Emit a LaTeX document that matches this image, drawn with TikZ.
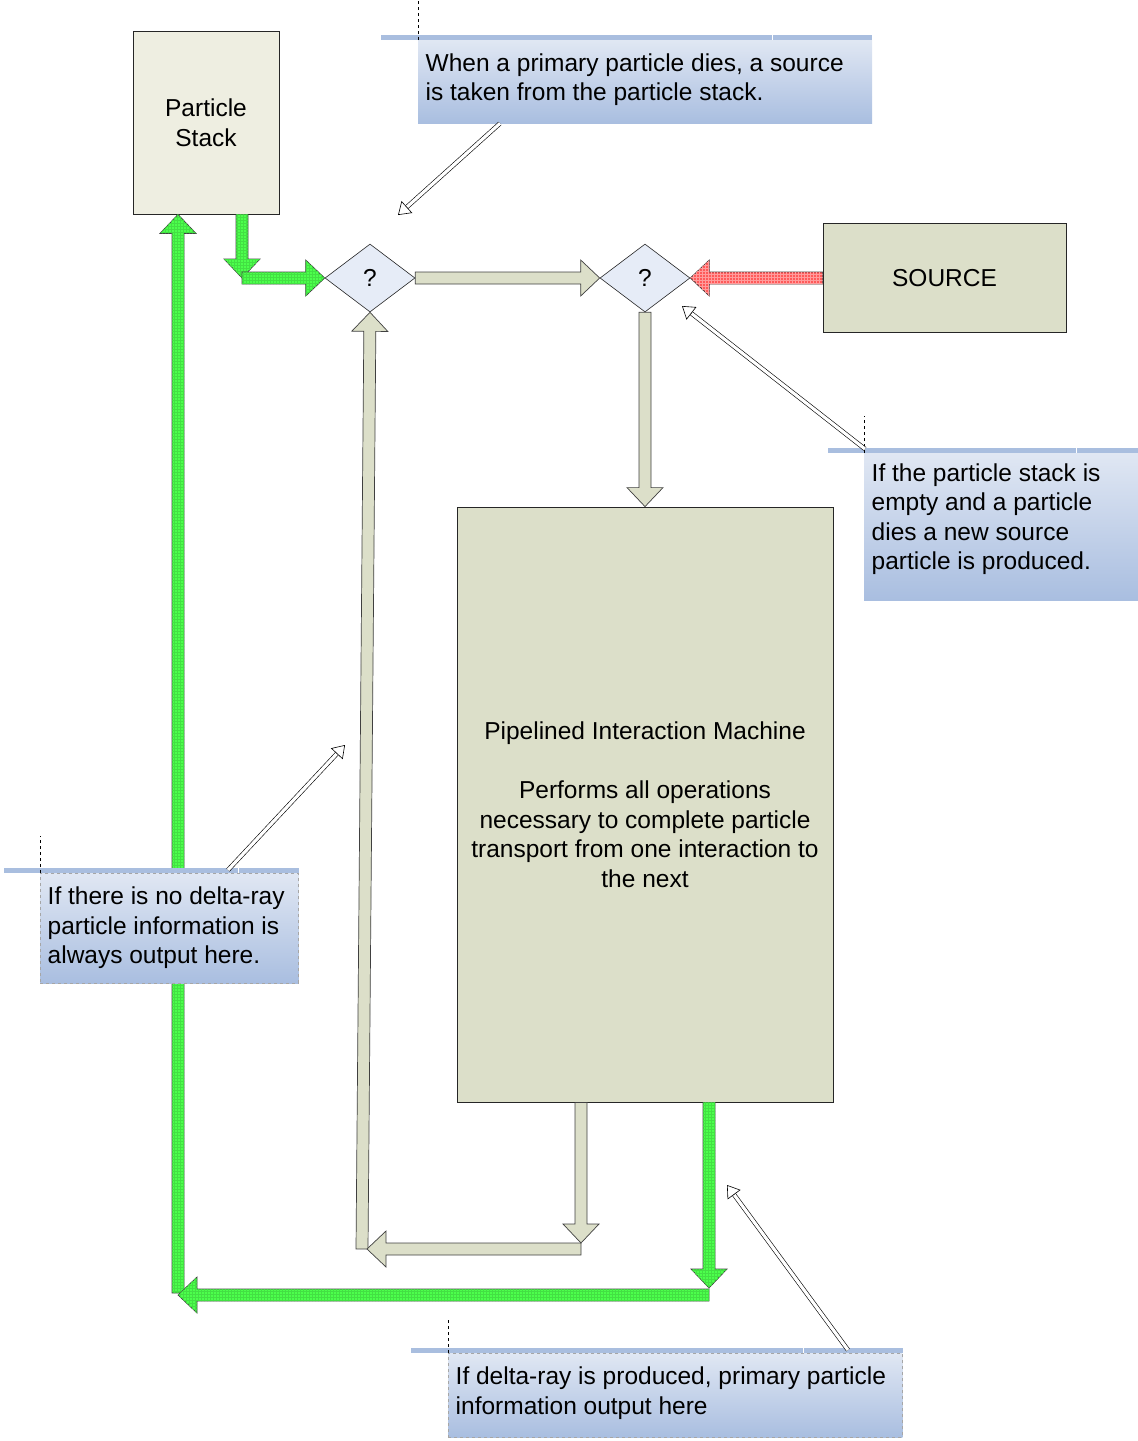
\documentclass[tikz,border=0pt]{standalone}
\usepackage{fontspec}
\setmainfont{Liberation Sans}
\usetikzlibrary{arrows.meta,calc,patterns,positioning,shapes.geometric}

\definecolor{boxfill}{HTML}{DCDFC9}
\definecolor{stackfill}{HTML}{EEEEE1}
\definecolor{decfill}{HTML}{E6ECF7}
\definecolor{flowgreen}{HTML}{4CFF4C}
\definecolor{flowred}{HTML}{FF5A5A}
\definecolor{notetop}{HTML}{E0E7F3}
\definecolor{notebottom}{HTML}{A9BEE0}
\definecolor{barblue}{HTML}{A9BEDF}

\tikzset{
  box/.style={draw=black!85, line width=0.8pt, align=center, inner sep=0pt},
  decision/.style={diamond, draw=black!85, line width=0.6pt, fill=decfill, minimum width=90pt, minimum height=68pt, inner sep=0pt},
  grayflow/.style={draw=black!75, line width=0.7pt, fill=boxfill},
  greenflow/.style={draw=black!75, line width=0.7pt, fill=flowgreen, postaction={pattern=grid, pattern color=flowgreen!88!black}},
  redflow/.style={draw=black!75, line width=0.7pt, fill=flowred, postaction={pattern=grid, pattern color=flowred!60!white}},
  note/.style={top color=notetop, bottom color=notebottom, anchor=north west, inner sep=0pt},
  notetext/.style={anchor=north west, align=left, inner sep=0pt},
  notebar/.style={barblue, line width=5pt},
  pointerline/.style={double, double distance=3.2pt, line width=0.6pt},
  pointertip/.style={line width=0.6pt, -{Triangle[open, length=12pt, width=16pt]}}
}

\newcommand{\flowarrow}[3]{%
  \coordinate (fa) at ($(#3)!19pt!(#2)$);
  \draw[#1] ($(#2)!6pt!90:(#3)$) -- ($(fa)!6pt!90:(#3)$) -- ($(fa)!18pt!90:(#3)$) -- (#3)
    -- ($(fa)!18pt!-90:(#3)$) -- ($(fa)!6pt!-90:(#3)$) -- ($(#2)!6pt!-90:(#3)$) -- cycle;}
\newcommand{\pointer}[2]{%
  \draw[pointerline] (#1) -- ($(#2)!12pt!(#1)$);
  \draw[pointertip] ($(#2)!12pt!(#1)$) -- (#2);}

\begin{document}
\begin{tikzpicture}[x=1pt, y=-1pt, every node/.style={font=\fontsize{24.5}{29.5}\selectfont}]
\useasboundingbox (0,0) rectangle (1138,1441);

\node[box, fill=stackfill, minimum width=146pt, minimum height=183pt] (stack) at (206,122.5) {Particle\\Stack};
\node[decision] (dec1) at (370,278) {?};
\node[decision] (dec2) at (645,278) {?};
\node[box, fill=boxfill, minimum width=243pt, minimum height=109pt] (source) at (944.5,278) {SOURCE};
\node[box, fill=boxfill, minimum width=376pt, minimum height=595pt] (machine) at (645,804.5)
  {Pipelined Interaction Machine\\[29.5pt]Performs all operations\\necessary to complete particle\\transport from one interaction to\\the next};

\coordinate (s1) at ($(stack.south)+(36,0)$);
\coordinate (s2) at (s1 |- dec1.west);
\coordinate (s3) at ($(stack.south)+(-28,0)$);
\coordinate (m1) at ($(machine.south)+(-64,0)$);
\coordinate (m2) at ($(machine.south)+(64,0)$);
\coordinate (g1) at (581,1243);
\coordinate (g2) at (581,1249);
\coordinate (g3) at (367,1249);
\coordinate (g4) at (362,1249);
\coordinate (h1) at (709,1288);
\coordinate (h2) at (709,1295);
\coordinate (h3) at (178,1295);
\coordinate (h4) at (178,1293);

\flowarrow{greenflow}{h4}{s3}
\flowarrow{greenflow}{m2}{h1}
\flowarrow{greenflow}{h2}{h3}
\flowarrow{greenflow}{s1}{s2}
\flowarrow{greenflow}{s2}{dec1.west}
\flowarrow{grayflow}{dec1.east}{dec2.west}
\flowarrow{redflow}{source.west}{dec2.east}
\flowarrow{grayflow}{dec2.south}{machine.north}
\flowarrow{grayflow}{g4}{dec1.south}
\flowarrow{grayflow}{m1}{g1}
\flowarrow{grayflow}{g2}{g3}

\node[note, minimum width=454pt, minimum height=83pt] (note1) at (418,40) {};
\draw[notebar] ($(note1.north west)+(-37,-2.5)$) -- ($(note1.north east)+(0,-2.5)$);
\draw[white, line width=1pt] ($(note1.north east)+(-100,0)$) -- ++(0,-5);
\draw[dashed, line width=0.6pt] (note1.north west) -- ++(0,-40);
\node[notetext] at ($(note1.north west)+(7.5,13.5)$) {When a primary particle dies, a source\\is taken from the particle stack.};
\coordinate (n1) at ($(note1.south west)+(82,0)$);
\coordinate (p1) at (398,215);
\pointer{n1}{p1}

\node[note, minimum width=274pt, minimum height=147pt] (note2) at (864,453) {};
\draw[notebar] ($(note2.north west)+(-36,-2.5)$) -- ($(note2.north east)+(0,-2.5)$);
\draw[white, line width=1pt] ($(note2.north east)+(-62,0)$) -- ++(0,-5);
\draw[dashed, line width=0.6pt] (note2.north west) -- ++(0,-37);
\node[notetext] at ($(note2.north west)+(7.5,10.5)$) {If the particle stack is\\empty and a particle\\dies a new source\\particle is produced.};
\coordinate (n2) at ($(note2.north west)+(1,-4)$);
\coordinate (p2) at (682,306);
\pointer{n2}{p2}

\node[note, draw=black!35, dashed, line width=0.5pt, minimum width=258pt, minimum height=110pt] (note3) at (40,873) {};
\draw[notebar] ($(note3.north west)+(-36,-2.5)$) -- ($(note3.north east)+(0,-2.5)$);
\draw[white, line width=1pt] ($(note3.north east)+(-60,0)$) -- ++(0,-5);
\draw[dashed, line width=0.6pt] (note3.north west) -- ++(0,-37);
\node[notetext] at ($(note3.north west)+(7.5,14)$) {If there is no delta-ray\\particle information is\\always output here.};
\coordinate (n3) at ($(note3.north west)+(188,-3)$);
\coordinate (p3) at (345,745);
\pointer{n3}{p3}

\node[note, draw=black!35, dashed, line width=0.5pt, minimum width=454pt, minimum height=84pt] (note4) at (448,1353) {};
\draw[notebar] ($(note4.north west)+(-37,-2.5)$) -- ($(note4.north east)+(0,-2.5)$);
\draw[white, line width=1pt] ($(note4.north east)+(-99,0)$) -- ++(0,-5);
\draw[dashed, line width=0.6pt] (note4.north west) -- ++(0,-35);
\node[notetext] at ($(note4.north west)+(7.5,14)$) {If delta-ray is produced, primary particle\\information output here};
\coordinate (n4) at ($(note4.north west)+(400,-3)$);
\coordinate (p4) at (727,1185);
\pointer{n4}{p4}
\end{tikzpicture}
\end{document}
